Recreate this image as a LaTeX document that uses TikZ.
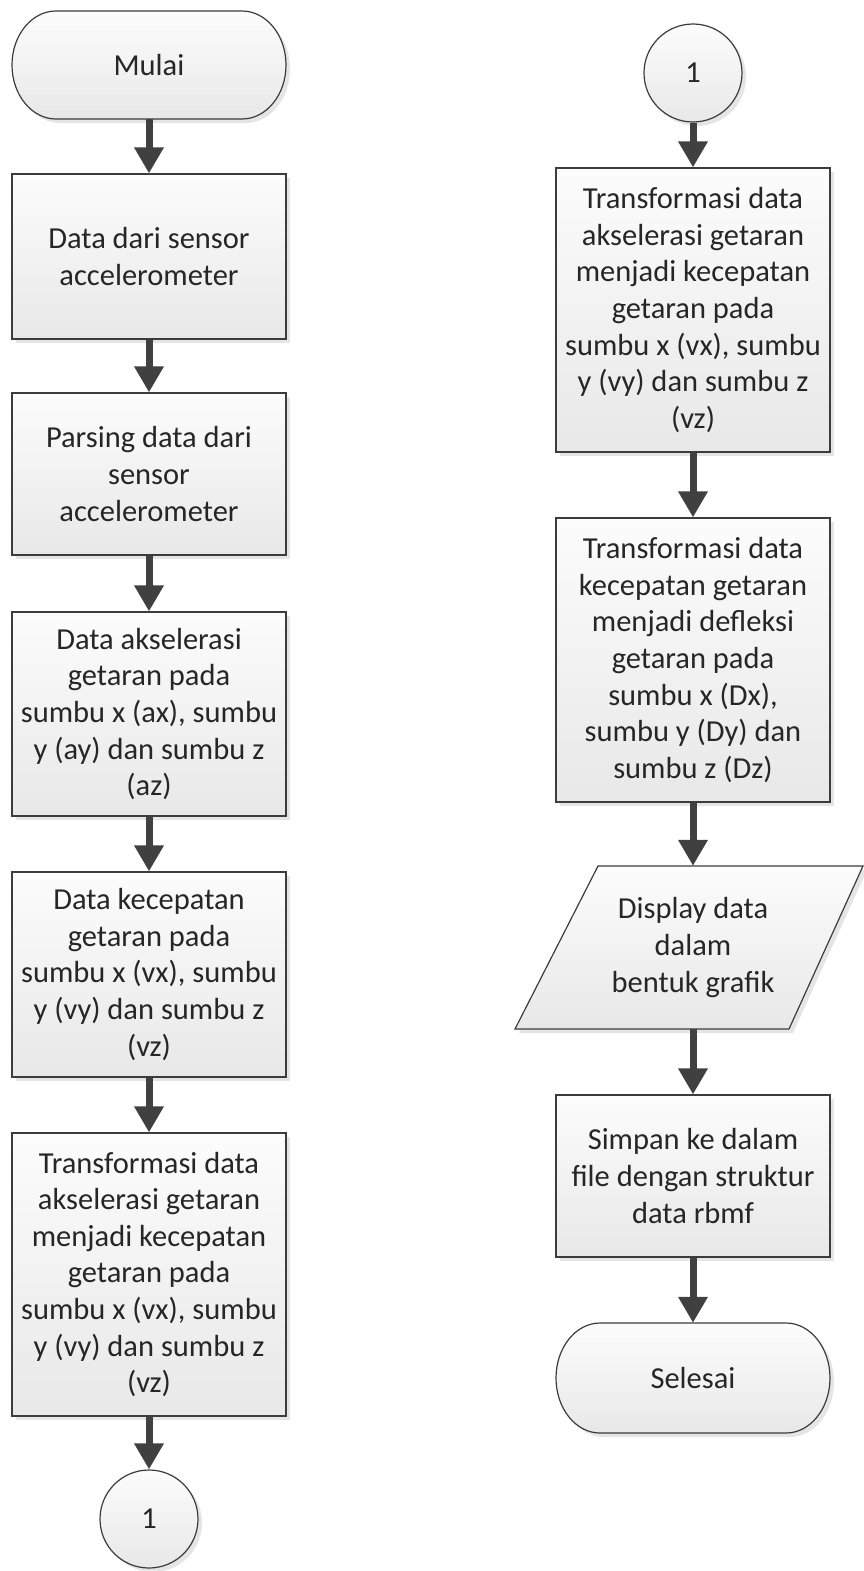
\documentclass[tikz,border=0pt]{standalone}
\usepackage{fontspec}
\setmainfont{Carlito}
\usetikzlibrary{arrows.meta,shadows}
\definecolor{edgec}{HTML}{3C3C3C}
\definecolor{arrowc}{HTML}{404040}
\definecolor{textc}{HTML}{262626}
\definecolor{filltop}{HTML}{FCFCFC}
\definecolor{fillbot}{HTML}{E8E8E8}
\tikzset{
  shapefill/.style={draw=edgec, line width=1.2pt, top color=filltop, bottom color=fillbot,
    drop shadow={opacity=0.2, shadow xshift=4pt, shadow yshift=-4pt}},
  txt/.style={font=\fontsize{30.5}{36.6}\selectfont, text=textc, align=center, inner sep=0pt},
  procbox/.style={shapefill, txt, rectangle, minimum width=274pt},
  conn/.style={shapefill, txt, circle, minimum size=98pt},
  plainlabel/.style={txt, draw=none, fill=none},
  flow/.style={line width=7pt, draw=arrowc, -{Triangle[length=26pt,width=28pt]}}
}
\begin{document}
\begin{tikzpicture}[x=1pt,y=-1pt]
\fill[white] (0,0) rectangle (863,1571);
\useasboundingbox (0,0) rectangle (863,1571);

% ---------- left column ----------
\path[shapefill] (56,11) -- (242,11) arc[start angle=90, end angle=-90, x radius=44pt, y radius=54pt]
  -- (56,119) arc[start angle=270, end angle=90, x radius=44pt, y radius=54pt] -- cycle;
\node[plainlabel, minimum width=274pt, minimum height=108pt] (T1) at (149,65) {Mulai};

\node[procbox, minimum height=165pt] (B1) at (149,256.5) {Data dari sensor\\accelerometer};
\node[procbox, minimum height=162pt] (B2) at (149,474) {Parsing data dari\\sensor\\accelerometer};
\node[procbox, minimum height=204pt] (B3) at (149,714) {Data akselerasi\\getaran pada\\sumbu x (ax), sumbu\\y (ay) dan sumbu z\\(az)};
\node[procbox, minimum height=205pt] (B4) at (149,974.5) {Data kecepatan\\getaran pada\\sumbu x (vx), sumbu\\y (vy) dan sumbu z\\(vz)};
\node[procbox, minimum height=283pt] (B5) at (149,1274.5) {Transformasi data\\akselerasi getaran\\menjadi kecepatan\\getaran pada\\sumbu x (vx), sumbu\\y (vy) dan sumbu z\\(vz)};
\node[conn] (C1) at (149,1519) {1};

% ---------- right column ----------
\node[conn] (C2) at (693,73) {1};
\node[procbox, minimum height=284pt] (R1) at (693,310) {Transformasi data\\akselerasi getaran\\menjadi kecepatan\\getaran pada\\sumbu x (vx), sumbu\\y (vy) dan sumbu z\\(vz)};
\node[procbox, minimum height=284pt] (R2) at (693,660) {Transformasi data\\kecepatan getaran\\menjadi defleksi\\getaran pada\\sumbu x (Dx),\\sumbu y (Dy) dan\\sumbu z (Dz)};

\path[shapefill] (598,866) -- (863,866) -- (789,1029) -- (515,1029) -- cycle;
\node[plainlabel, minimum width=190pt, minimum height=163pt] (P) at (693,947.5) {Display data\\dalam\\bentuk grafik};

\node[procbox, minimum height=162pt] (R3) at (693,1176) {Simpan ke dalam\\file dengan struktur\\data rbmf};

\path[shapefill] (600,1323) -- (786,1323) arc[start angle=90, end angle=-90, x radius=44pt, y radius=55pt]
  -- (600,1433) arc[start angle=270, end angle=90, x radius=44pt, y radius=55pt] -- cycle;
\node[plainlabel, minimum width=274pt, minimum height=110pt] (T2) at (693,1378) {Selesai};

% ---------- connectors ----------
\draw[flow] (T1) -- (B1);
\draw[flow] (B1) -- (B2);
\draw[flow] (B2) -- (B3);
\draw[flow] (B3) -- (B4);
\draw[flow] (B4) -- (B5);
\draw[flow] (B5) -- (C1);
\draw[flow] (C2) -- (R1);
\draw[flow] (R1) -- (R2);
\draw[flow] (R2) -- (P);
\draw[flow] (P) -- (R3);
\draw[flow] (R3) -- (T2);
\end{tikzpicture}
\end{document}
